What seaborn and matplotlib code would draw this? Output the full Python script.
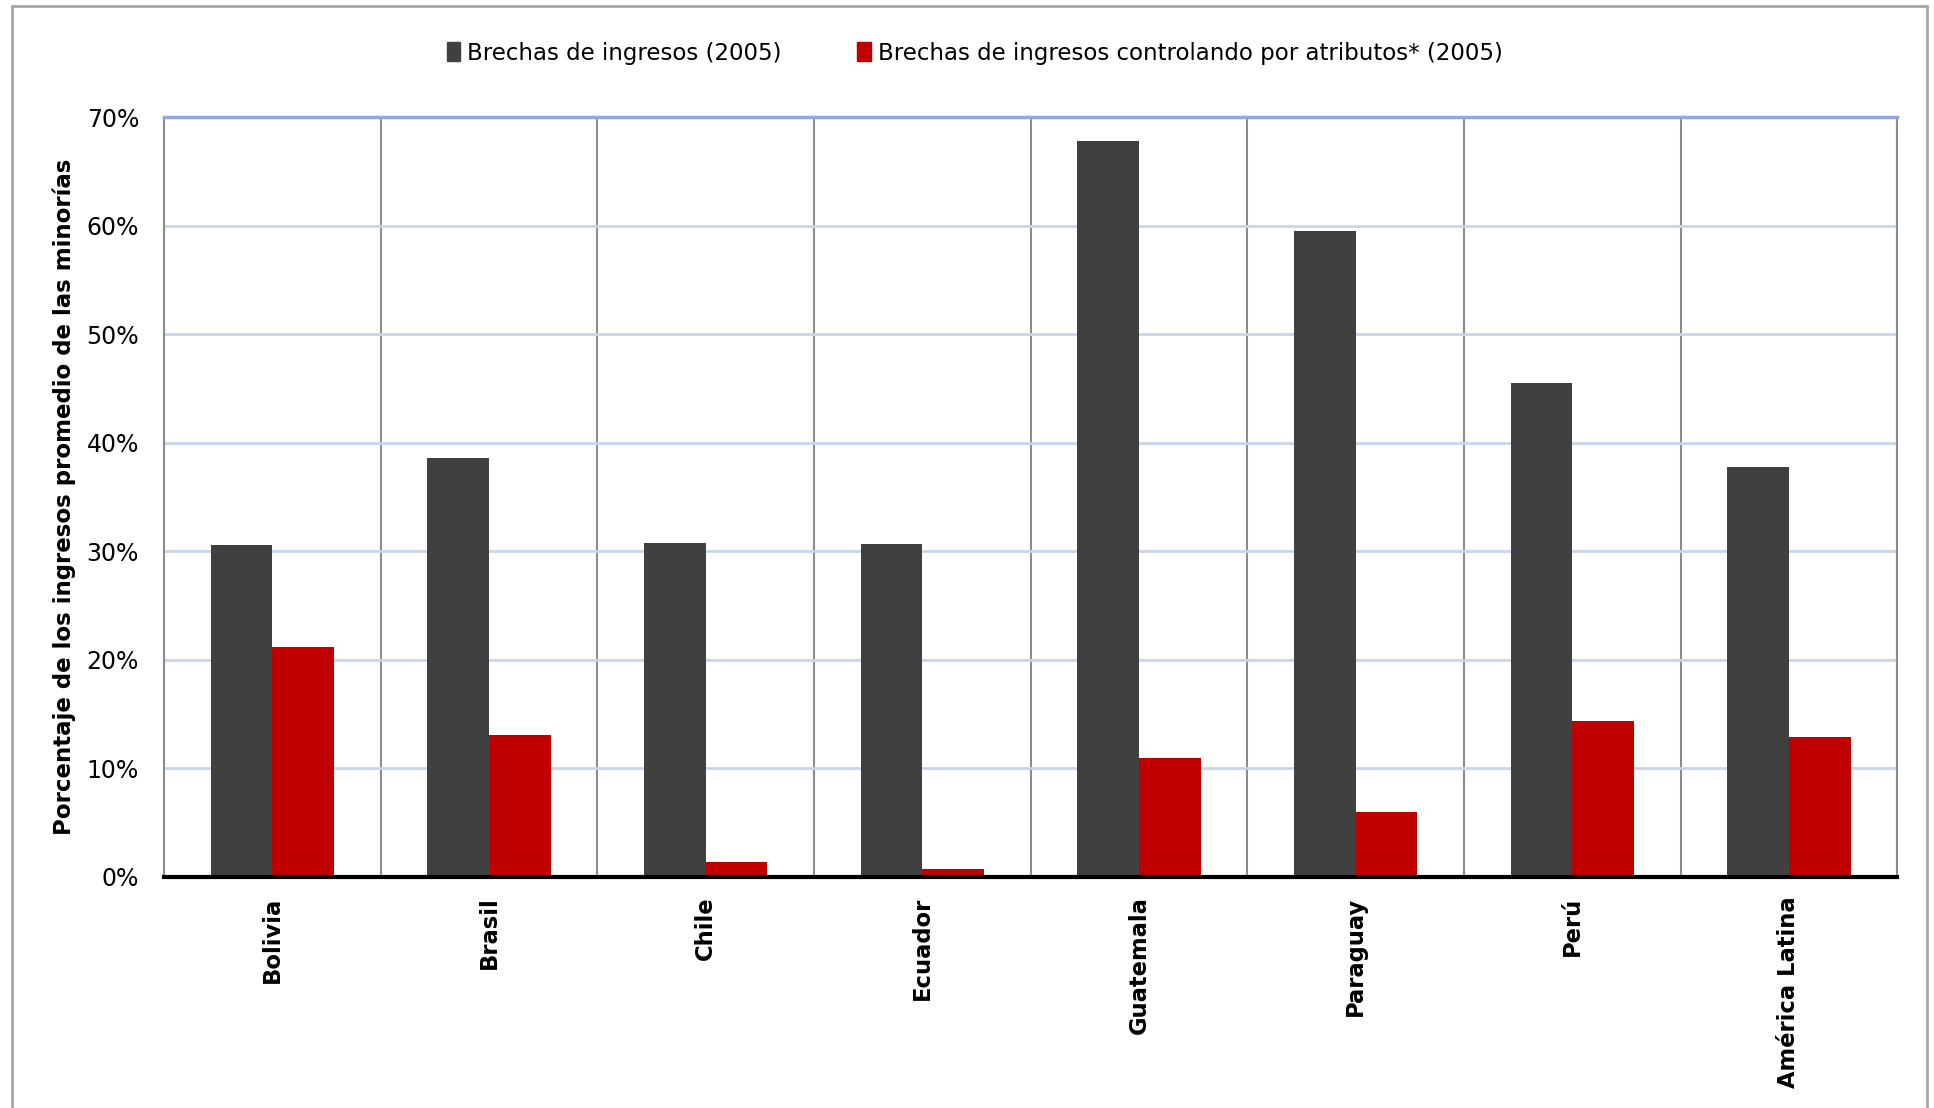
import pandas as pd
import matplotlib
matplotlib.use('Agg')
import matplotlib.pyplot as plt
import seaborn as sns
from matplotlib.lines import Line2D
from matplotlib.ticker import FuncFormatter, FixedLocator

# Data
paises = ['Bolivia', 'Brasil', 'Chile', 'Ecuador', 'Guatemala', 'Paraguay', 'Perú', 'América Latina']
brecha = [30.6, 38.6, 30.8, 30.7, 67.8, 59.5, 45.5, 37.8]
brecha_ctrl = [21.2, 13.1, 1.4, 0.7, 11.0, 6.0, 14.4, 12.9]
series = ['Brechas de ingresos (2005)', 'Brechas de ingresos controlando por atributos* (2005)']
colores = ['#404040', '#C00000']

df = pd.DataFrame({
    'pais': paises * 2,
    'valor': brecha + brecha_ctrl,
    'serie': [series[0]] * len(paises) + [series[1]] * len(paises),
})

sns.set_style('white')
plt.rcParams['text.color'] = 'black'
plt.rcParams['xtick.color'] = 'black'
plt.rcParams['ytick.color'] = 'black'
plt.rcParams['axes.labelcolor'] = 'black'

fig = plt.figure(figsize=(19.34, 11.08), dpi=100)
ax = fig.add_axes([0.0848, 0.2085, 0.8962, 0.6859])

sns.barplot(data=df, x='pais', y='valor', hue='serie', palette=colores,
            width=0.57, gap=0, saturation=1, edgecolor='none', ax=ax, legend=True)

ax.set_xlim(-0.5, len(paises) - 0.5)
ax.set_ylim(0, 70)
ax.set_yticks(range(0, 71, 10))
ax.yaxis.set_major_formatter(FuncFormatter(lambda v, p: f'{v:.0f}%'))
ax.tick_params(axis='y', labelsize=17, length=0, pad=18, labelcolor='black')

# horizontal grid
ax.grid(axis='y', color='#C9D5EE', linewidth=2)
ax.set_axisbelow(True)

# vertical separators between categories
bounds = [i - 0.5 for i in range(len(paises) + 1)]
ax.xaxis.set_minor_locator(FixedLocator(bounds))
ax.grid(axis='x', which='minor', color='#8C8C8C', linewidth=1.5)
ax.tick_params(axis='x', which='minor', length=9, width=2, color='black', direction='out')
ax.tick_params(axis='x', which='major', length=0, pad=14)
for lab in ax.get_xticklabels():
    lab.set_rotation(90)
    lab.set_fontweight('bold')
    lab.set_fontsize(16.3)
    lab.set_color('black')
    lab.set_va('top')
    lab.set_ha('center')

for s in ['left', 'right']:
    ax.spines[s].set_color('#8C8C8C')
    ax.spines[s].set_linewidth(1.5)
ax.spines['top'].set_color('#8EA9DB')
ax.spines['top'].set_linewidth(2.5)
ax.spines['bottom'].set_color('black')
ax.spines['bottom'].set_linewidth(3)

ax.set_xlabel('')
ax.set_ylabel('Porcentaje de los ingresos promedio de las minorías',
              fontsize=16.5, fontweight='bold', color='black')
ax.yaxis.set_label_coords(-0.051, 0.5)

ax.legend_.remove()
handles = [plt.Rectangle((0, 0), 1, 1, color=c) for c in colores]
fig.legend(handles, series, loc='center', bbox_to_anchor=(0.504, 0.952), ncol=2,
           frameon=False, prop={'size': 16.5},
           handlelength=0.6, handleheight=0.9, handletextpad=0.3, columnspacing=3.3)

# outer chart border
for xs, ys in [([0.0062, 0.0062], [0, 0.9946]), ([0.0062, 0.9964], [0.9946, 0.9946]),
               ([0.9964, 0.9964], [0, 0.9946])]:
    fig.add_artist(Line2D(xs, ys, transform=fig.transFigure, color='#A6A6A6', linewidth=2))

fig.savefig('out.png', dpi=100)
